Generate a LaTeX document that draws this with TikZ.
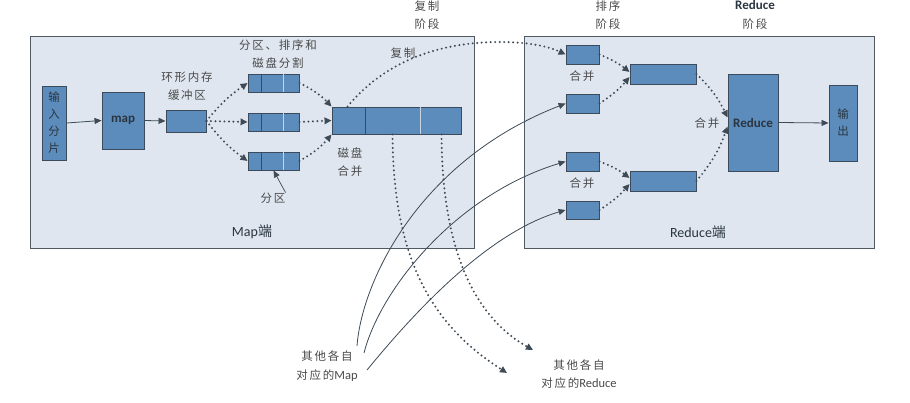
\documentclass[tikz,border=0pt]{standalone}
\usepackage{fontspec}
\setmainfont{Carlito}
\newfontfamily\cjk{Noto Sans CJK SC}[LetterSpace=15]
\usetikzlibrary{arrows.meta,calc}
\definecolor{panelfill}{HTML}{DFE6EF}
\definecolor{panelline}{HTML}{505A64}
\definecolor{boxfill}{HTML}{5C8CBC}
\definecolor{boxline}{HTML}{3C4B5B}
\definecolor{lightdiv}{HTML}{C8D4E0}
\definecolor{linec}{HTML}{3E4A56}
\definecolor{lbltext}{HTML}{4A4A4A}
\definecolor{boxtext}{HTML}{2A3540}
\newcommand{\zhtxt}[1]{{\cjk #1}}
\begin{document}
\begin{tikzpicture}[x=1pt,y=-1pt,
  panel/.style={draw=panelline, fill=panelfill, line width=0.9pt, inner sep=0pt},
  box/.style={draw=boxline, fill=boxfill, line width=0.9pt, inner sep=0pt},
  lbl/.style={text=lbltext, font=\cjk\fontsize{11.5}{18.5}\selectfont, align=center, inner sep=0pt},
  lat/.style={text=boxtext, inner sep=0pt, align=center},
  solidarrow/.style={draw=linec, line width=0.8pt, -{Triangle[length=7pt,width=6pt]}},
  dotarrow/.style={draw=linec, line width=2.2pt, line cap=round, dash pattern=on 0pt off 4.5pt, -{Triangle[length=7pt,width=6.5pt]}},
  darkdiv/.style={draw=boxline, line width=0.9pt},
  lightdiv/.style={draw=lightdiv, line width=0.9pt}
]
\path[use as bounding box, fill=white] (0,0) rectangle (910,403);

% panels
\node[panel, minimum width=444pt, minimum height=212pt] (mappanel) at (252,142) {};
\node[panel, minimum width=350pt, minimum height=212pt] (redpanel) at (699,142) {};

% map side boxes
\node[box, minimum width=24pt, minimum height=74pt, lat, font=\cjk\fontsize{11.5}{17}\selectfont] (input) at (54,123) {输\\入\\分\\片};
\node[box, minimum width=42pt, minimum height=57pt, lat, font=\bfseries\fontsize{13}{14}\selectfont] (map) at (123,120.5) {map};
\node[box, minimum width=40pt, minimum height=22pt] (buf) at (186,121) {};
\node[box, minimum width=51pt, minimum height=18pt] (p1) at (273.5,83) {};
\node[box, minimum width=51pt, minimum height=18pt] (p2) at (273.5,122) {};
\node[box, minimum width=51pt, minimum height=18pt] (p3) at (273.5,161) {};
\foreach \p in {p1,p2,p3}{
  \draw[darkdiv] ([xshift=14pt]\p.north west) -- ([xshift=14pt]\p.south west);
  \draw[lightdiv] ([xshift=36pt]\p.north west) -- ([xshift=36pt]\p.south west);
}
\node[box, minimum width=129pt, minimum height=27pt] (big) at (396.5,120.5) {};
\draw[darkdiv] ([xshift=34pt]big.north west) -- ([xshift=34pt]big.south west);
\draw[lightdiv] ([xshift=89pt]big.north west) -- ([xshift=89pt]big.south west);

% reduce side boxes
\node[box, minimum width=33pt, minimum height=19pt] (r1) at (582.5,54.5) {};
\node[box, minimum width=33pt, minimum height=19pt] (r2) at (582.5,103.5) {};
\node[box, minimum width=33pt, minimum height=19pt] (r3) at (582.5,161.5) {};
\node[box, minimum width=33pt, minimum height=18pt] (r4) at (582.5,210) {};
\node[box, minimum width=66pt, minimum height=20pt] (s1) at (663,74) {};
\node[box, minimum width=66pt, minimum height=20pt] (s2) at (663,181) {};
\node[box, minimum width=50pt, minimum height=97pt, lat, font=\bfseries\fontsize{13}{14}\selectfont] (red) at (753,122.5) {Reduce};
\node[box, minimum width=28pt, minimum height=76pt, lat, font=\cjk\fontsize{11.5}{17}\selectfont] (out) at (843,123) {输\\出};

% labels
\node[lbl] (lbuf) at (187,86) {环形内存\\缓冲区};
\node[lbl] (lpart) at (278,54) {分区、排序和\\磁盘分割};
\node[lbl] (lcopy) at (403,53) {复制};
\node[lbl] (ldisk) at (350,162) {磁盘\\合并};
\node[lbl] (lfq) at (273,198) {分区};
\node[lat, text=boxtext, font=\fontsize{14}{16}\selectfont] (lmap) at (252,232) {Map\zhtxt{端}};
\node[lat, text=boxtext, font=\fontsize{14}{16}\selectfont] (lred) at (698,232) {Reduce\zhtxt{端}};
\node[lbl] (lm1) at (582,76) {合并};
\node[lbl] (lm2) at (582,183) {合并};
\node[lbl] (lm3) at (707,123) {合并};
\node[lbl] (t1) at (427,15) {复制\\阶段};
\node[lbl] (t2) at (608,15) {排序\\阶段};
\node[lbl, font=\fontsize{11.5}{18.5}\selectfont] (t3) at (755,15) {{\bfseries\fontsize{13}{18.5}\selectfont\color{boxtext}Reduce}\\\zhtxt{阶段}};
\node[lbl] (omap) at (327,366) {其他各自\\对应的{\normalfont\fontsize{12.5}{18}\selectfont Map}};
\node[lbl] (ored) at (579,374) {其他各自\\对应的{\normalfont\fontsize{12.5}{18}\selectfont Reduce}};

% map side connectors
\draw[solidarrow] (input.east) -- (map.west);
\draw[solidarrow] (map.east) -- (buf.west);
\draw[dotarrow] (buf.east) to[bend left=8] (p1.west);
\draw[dotarrow] (buf.east) -- (p2.west);
\draw[dotarrow] (buf.east) to[bend right=8] (p3.west);
\draw[dotarrow] (p1.east) to[bend left=10] (big.north west);
\draw[dotarrow] (p2.east) -- (big.west);
\draw[dotarrow] (p3.east) to[bend right=10] (big.south west);
\draw[solidarrow, line width=0.7pt] (lfq.north east) -- (p3.south);

% copy
\draw[dotarrow] ([xshift=16pt]big.north west) .. controls (390,55) and (450,42) .. (500,42) .. controls (530,42) and (550,47) .. (r1.west);

% reduce side connectors
\draw[dotarrow] (r1.east) to[bend left=8] ([yshift=2pt]s1.west);
\draw[dotarrow] (r2.east) to[bend right=8] ([yshift=-3pt]s1.west);
\draw[dotarrow] (r3.east) to[bend left=8] ([yshift=3pt]s2.west);
\draw[dotarrow] (r4.east) to[bend right=8] ([yshift=-3pt]s2.west);
\draw[dotarrow] (s1.east) to[bend left=10] ([yshift=5pt]red.west);
\draw[dotarrow] (s2.east) to[bend right=10] ([yshift=-4pt]red.west);
\draw[solidarrow] (red.east) -- (out.west);

% drops to other reduces
\coordinate (e1) at (507,373);
\coordinate (e2) at (533,350);
\draw[dotarrow] ([xshift=61pt]big.south west) .. controls (393,270) and (440,330) .. (e1);
\draw[dotarrow] ([xshift=110pt]big.south west) .. controls (442,260) and (480,320) .. (e2);

% from other maps
\coordinate (m1) at (357,346);
\coordinate (m2) at (364,353);
\coordinate (m3) at (367,370);
\draw[solidarrow] (m1) .. controls (362,280) and (420,160) .. (r2.west);
\draw[solidarrow] (m2) .. controls (380,290) and (455,195) .. (r3.west);
\draw[solidarrow] (m3) .. controls (400,330) and (480,235) .. (r4.west);
\end{tikzpicture}
\end{document}
